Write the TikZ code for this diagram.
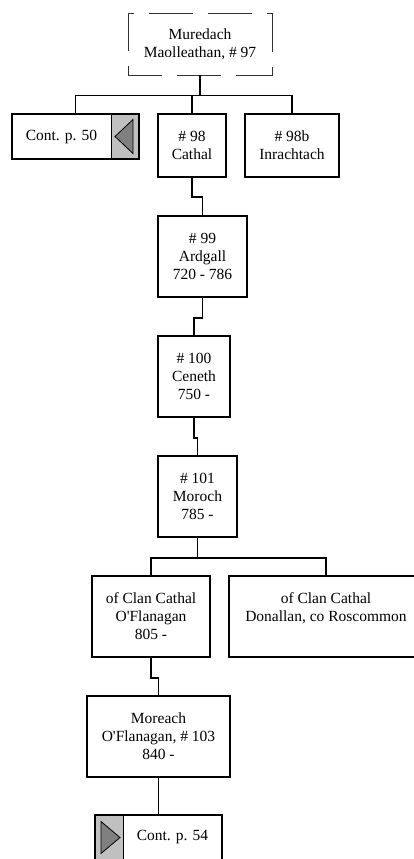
\documentclass[tikz,border=0pt]{standalone}
\usepackage{fontspec}
\setmainfont{Liberation Serif}
\usepackage{tikz}
\usetikzlibrary{positioning}

\definecolor{tabgrey}{HTML}{C0C0C0}
\definecolor{arrowgrey}{HTML}{808080}

\tikzset{
  person/.style={draw,line width=1.5pt,fill=white,align=center,inner sep=2pt,
    font=\fontsize{15.5}{18}\selectfont},
  parent/.style={person,draw=black!80,line width=0.9pt,dash pattern=on 44pt off 15pt,dash phase=10pt},
  link/.style={line width=1.5pt},
  contleft/.style={person,path picture={
    \fill[tabgrey] ([xshift=-28pt]path picture bounding box.north east) rectangle (path picture bounding box.south east);
    \draw[line width=0.6pt] ([xshift=-28pt]path picture bounding box.north east) -- ([xshift=-28pt]path picture bounding box.south east);
    \filldraw[fill=arrowgrey,line width=0.8pt] ([xshift=-24pt]path picture bounding box.east)
      -- ([xshift=-6pt,yshift=17pt]path picture bounding box.east)
      -- ([xshift=-6pt,yshift=-17pt]path picture bounding box.east) -- cycle;}},
  contright/.style={person,path picture={
    \fill[tabgrey] (path picture bounding box.north west) rectangle ([xshift=28pt]path picture bounding box.south west);
    \draw[line width=0.6pt] ([xshift=28pt]path picture bounding box.north west) -- ([xshift=28pt]path picture bounding box.south west);
    \filldraw[fill=arrowgrey,line width=0.8pt] ([xshift=25pt]path picture bounding box.west)
      -- ([xshift=6pt,yshift=16pt]path picture bounding box.west)
      -- ([xshift=6pt,yshift=-16pt]path picture bounding box.west) -- cycle;}}
}

\begin{document}
\begin{tikzpicture}[x=1pt,y=-1pt]
\clip (0,0) rectangle (414,859);
\fill[white] (0,0) rectangle (414,859);

\node[parent,minimum width=144pt,minimum height=62pt] (muredach) at (200,44) {Muredach\\Maolleathan, \# 97};

\node[contleft,minimum width=127pt,minimum height=45pt] (cont50) at (75.5,136.5) {Cont. p. 50\hspace{28pt}};
\node[person,minimum width=68pt,minimum height=63pt] (cathal) at (192,145.5) {\# 98\\Cathal};
\node[person,minimum width=94pt,minimum height=63pt] (inrachtach) at (292,145.5) {\# 98b\\Inrachtach};

\node[person,minimum width=89pt,minimum height=81pt] (ardgall) at (202.5,256.5) {\# 99\\Ardgall\\720 - 786};
\node[person,minimum width=72pt,minimum height=81pt] (ceneth) at (194,376.5) {\# 100\\Ceneth\\750 -};
\node[person,minimum width=79pt,minimum height=81pt] (moroch) at (197.5,496.5) {\# 101\\Moroch\\785 -};

\node[person,minimum width=118pt,minimum height=81pt] (oflanagan) at (151,616.5) {of Clan Cathal\\O\textquotesingle Flanagan\\805 -};
\node[person,minimum width=194pt,minimum height=81pt] (donallan) at (326,616.5) {of Clan Cathal\\Donallan, co Roscommon\\\mbox{}};

\node[person,minimum width=143pt,minimum height=81pt] (moreach) at (158.5,736.5) {Moreach\\O\textquotesingle Flanagan, \# 103\\840 -};
\node[contright,minimum width=127pt,minimum height=45pt] (cont54) at (158.5,837.5) {\hspace{28pt}Cont. p. 54};

\draw[link] (muredach.south) -- ++(0,20) coordinate (bus97);
\draw[link] (cont50.north) |- (bus97) -| (inrachtach.north);
\draw[link] (cathal.north) -- (cathal.north |- bus97);
\draw[link] (cathal.south) -- ++(0,19) -| (ardgall.north);
\draw[link] (ardgall.south) -- ++(0,20) -| (ceneth.north);
\draw[link] (ceneth.south) -- ++(0,20) -| (moroch.north);
\draw[link] (moroch.south) -- ++(0,20) coordinate (bus101);
\draw[link] (oflanagan.north) |- (bus101) -| (donallan.north);
\draw[link] (oflanagan.south) -- ++(0,20) -| (moreach.north);
\draw[link] (moreach.south) -- (cont54.north);
\end{tikzpicture}
\end{document}
